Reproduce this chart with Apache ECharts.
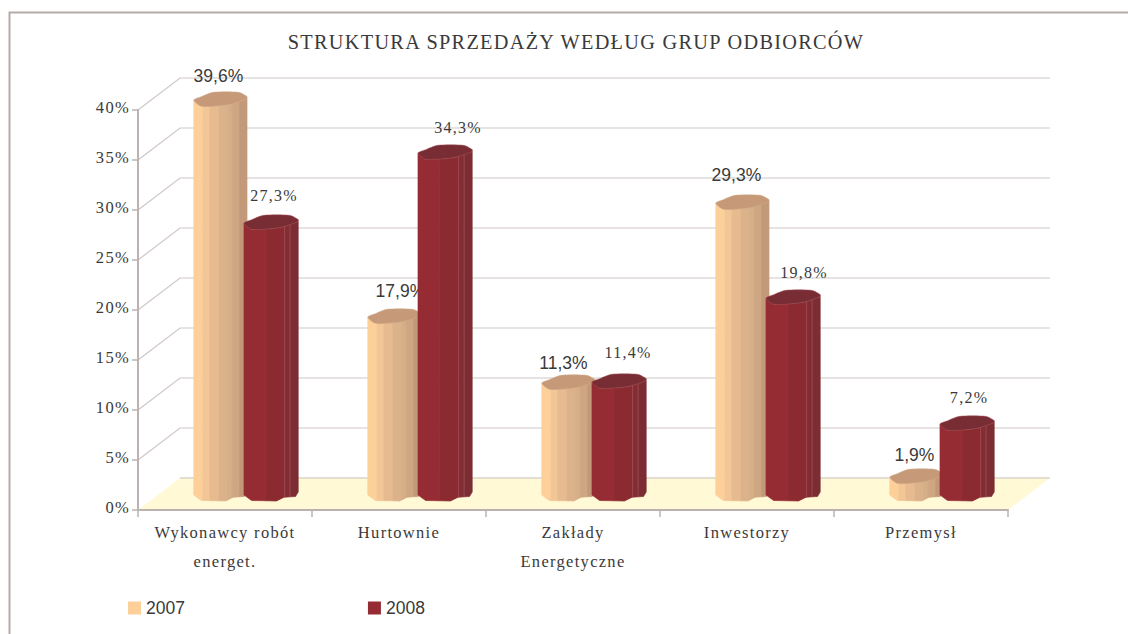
<!DOCTYPE html>
<html><head><meta charset="utf-8">
<style>
html,body{margin:0;padding:0;background:#fff}
#c{width:1128px;height:634px}
text[style*="Liberation Serif"]{letter-spacing:1.3px}
</style>
<script src="https://cdn.jsdelivr.net/npm/echarts@6/dist/echarts.min.js"></script>
</head><body><div id="c"></div>
<script>
const categories = ['Wykonawcy robót\nenerget.', 'Hurtownie', 'Zakłady\nEnergetyczne', 'Inwestorzy', 'Przemysł'];
const values2007 = [39.6, 17.9, 11.3, 29.3, 1.9];
const values2008 = [27.3, 34.3, 11.4, 19.8, 7.2];
const valueTicks = [0, 5, 10, 15, 20, 25, 30, 35, 40];
const title = 'STRUKTURA SPRZEDAŻY WEDŁUG GRUP ODBIORCÓW';

// depth projection and style constants (not data)
const WALL = [42, -32], BAR = [21, -14];
const SERIF = '"Liberation Serif"', SANS = '"Liberation Sans"';
const topKnots = [[0,0],[.14,6.3],[.49,5.7],[.71,4],[1,-1.5]];
const botKnots = [[0,-1],[.14,4.5],[.6,5],[.74,1.2],[.95,.5],[1,-4]];
const topBack = [[1,-3.5],[.84,-7.7],[.36,-7.7],[.14,-3.3],[0,0]];
const sty2007 = {
  color:'#fdcf99', top:'#c69a78', edge:'#cfa888', inner:null,
  bands:[[0,.17,'#fdcf99'],[.17,.3,'#f3c697'],[.3,.47,'#e7bb8f'],[.47,.63,'#dcb28b'],[.63,.72,'#d6ae88'],[.72,.86,'#cfa682'],[.86,1,'#c39a79']],
  font:'17.5px '+SANS, fill:'#3a3a3a',
  nudge:[[-2,-24],[6,-26],[-5,-20],[-6,-28],[-2,-22]], side:-1
};
const sty2008 = {
  color:'#962c33', top:'#782c34', edge:'#a8595d', inner:[.75,.85],
  bands:[[0,.4,'#962c33'],[.4,.75,'#8b2b31'],[.75,.85,'#842c33'],[.85,1,'#7c2d34']],
  font:'16px '+SERIF, fill:'#3a3a3a',
  nudge:[[3,-28],[13,-26],[9,-30],[11,-26],[2,-27]], side:1
};

function curve(k, t){
  for (let i=1;i<k.length;i++) if (t<=k[i][0]) {
    const a=k[i-1], b=k[i], f=(t-a[0])/(b[0]-a[0]);
    return a[1]+(b[1]-a[1])*f;
  }
  return k[k.length-1][1];
}
function band(k,t0,t1){
  const ts=[t0].concat(k.map(p=>p[0]).filter(t=>t>t0&&t<t1),[t1]);
  return ts.map(t=>[t,curve(k,t)]);
}
function barRenderer(s){
  return function(params, api){
    const idx=api.value(0), v=api.value(1);
    const w=api.size([1,0])[0]*0.3;
    const base=api.coord([idx,0]), head=api.coord([idx,v]);
    const c=base[0]+BAR[0];
    const x0 = s.side<0 ? c-w : c-2;
    const ww = s.side<0 ? w+1 : w+2;
    const yTop=head[1]+BAR[1], yBot=base[1]+BAR[1];
    const kids=[];
    s.bands.forEach(b=>{
      const up=band(topKnots,b[0],b[1]).map(p=>[x0+p[0]*ww,yTop+p[1]]);
      const dn=band(botKnots,b[0],b[1]).reverse().map(p=>[x0+p[0]*ww,yBot+p[1]]);
      kids.push({type:'polygon',shape:{points:up.concat(dn)},style:{fill:b[2],stroke:b[2],lineWidth:.7}});
    });
    if (s.inner) s.inner.forEach(t=>{
      kids.push({type:'line',shape:{x1:x0+t*ww,y1:yTop+curve(topKnots,t),x2:x0+t*ww,y2:yBot+curve(botKnots,t)},style:{stroke:s.edge,lineWidth:.6}});
    });
    const outline=topKnots.concat(topBack.slice(0,-1)).map(p=>[x0+p[0]*ww,yTop+p[1]]);
    kids.push({type:'polygon',shape:{points:outline,smooth:0.25},style:{fill:s.top,stroke:s.edge,lineWidth:.5}});
    const n=s.nudge[idx];
    kids.push({type:'text',style:{text:v.toFixed(1).replace('.',',')+'%',x:x0+ww/2+n[0],y:yTop+n[1],align:'center',verticalAlign:'middle',font:s.font,fill:s.fill}});
    return {type:'group',children:kids};
  };
}
function wallRenderer(params, api){
  const v=api.value(1), cs=params.coordSys;
  const y=api.coord([0,v])[1], xl=cs.x, xr=cs.x+cs.width;
  const kids=[];
  const line={stroke:'#cfc7c5',lineWidth:1.2};
  if (v===0) {
    kids.push({type:'polygon',shape:{points:[[xl,y],[xl+WALL[0],y+WALL[1]],[xr+WALL[0],y+WALL[1]],[xr,y]]},style:{fill:'#fff9d6'}});
    kids.push({type:'line',shape:{x1:xl+WALL[0],y1:y+WALL[1],x2:xr+WALL[0],y2:y+WALL[1]},style:{stroke:'#d9d3c8',lineWidth:1.5}});
  } else {
    kids.push({type:'polyline',shape:{points:[[xl,y],[xl+WALL[0],y+WALL[1]],[xr+WALL[0],y+WALL[1]]]},style:Object.assign({fill:null},line)});
  }
  return {type:'group',children:kids};
}
const chart=echarts.init(document.getElementById('c'),null,{renderer:'svg'});
chart.setOption({
  animation:false,
  backgroundColor:'#fff',
  title:{text:title,left:571,top:27,textAlign:'center',textStyle:{fontFamily:SERIF,fontSize:20.3,fontWeight:'normal',color:'#3a3a3a'}},
  legend:{data:['2007','2008'],left:123,top:594,itemWidth:13,itemHeight:13,itemGap:183,icon:'rect',
    textStyle:{fontFamily:SANS,fontSize:17.5,color:'#3a3a3a'}},
  graphic:[{type:'polyline',silent:true,shape:{points:[[9.5,634],[9.5,12.5],[1128,12.5]]},style:{fill:null,stroke:'#b5a9a7',lineWidth:2}}],
  grid:{left:138,right:120,top:110,bottom:124},
  xAxis:{type:'category',data:categories,z:5,
    axisLine:{lineStyle:{color:'#bcb3b1',width:2}},
    axisTick:{show:true,length:7,lineStyle:{color:'#bcb3b1',width:1.5}},
    axisLabel:{fontFamily:SERIF,fontSize:16.5,color:'#3a3a3a',lineHeight:29,margin:8,interval:0}},
  yAxis:{type:'value',min:0,max:40,interval:5,z:5,
    axisLine:{show:true,lineStyle:{color:'#bcb3b1',width:2}},
    axisTick:{show:true,length:6,lineStyle:{color:'#bcb3b1',width:1.5}},
    splitLine:{show:false},
    axisLabel:{fontFamily:SERIF,fontSize:16.5,color:'#3a3a3a',margin:8,formatter:'{value}%',verticalAlign:'bottom',lineHeight:6}},
  series:[
    {type:'custom',name:'siatka',z:1,clip:false,silent:true,renderItem:wallRenderer,data:valueTicks.map(v=>[0,v])},
    {type:'custom',name:'2007',z:2,clip:false,itemStyle:{color:sty2007.color},renderItem:barRenderer(sty2007),data:values2007.map((v,i)=>[i,v])},
    {type:'custom',name:'2008',z:3,clip:false,itemStyle:{color:sty2008.color},renderItem:barRenderer(sty2008),data:values2008.map((v,i)=>[i,v])}
  ]
});
</script></body></html>
